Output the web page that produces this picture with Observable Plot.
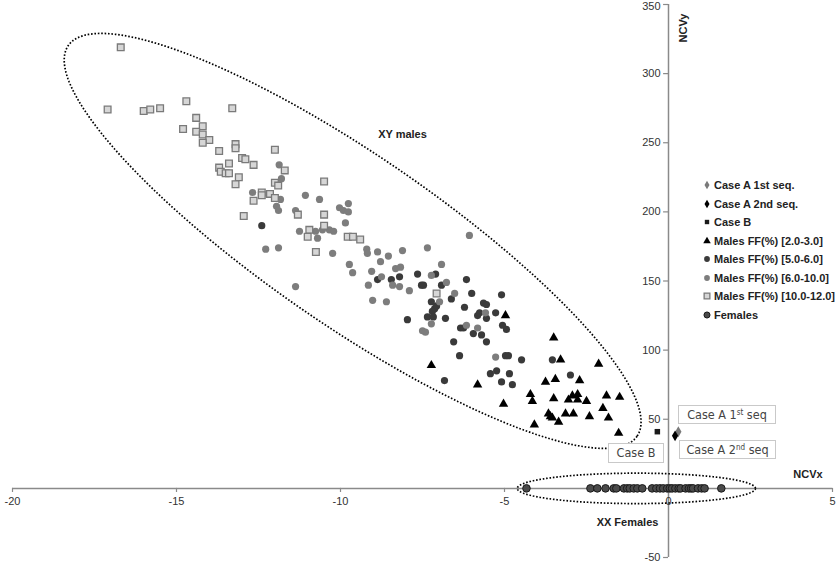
<!DOCTYPE html>
<html><head><meta charset="utf-8">
<script src="https://cdn.jsdelivr.net/npm/d3@7"></script>
<script src="https://cdn.jsdelivr.net/npm/@observablehq/plot@0.6"></script>
<style>
html,body{margin:0;padding:0;background:#fff;overflow:hidden}
#wrap{position:relative;width:837px;height:564px}
.box{position:absolute;box-sizing:border-box;border:1px solid #c9c9c9;background:#fff;font-family:"Liberation Sans Narrow","DejaVu Sans Condensed","Liberation Sans",sans-serif;font-size:12.5px;color:#444;text-align:center;white-space:nowrap}
.box sup{font-size:8px;line-height:0;vertical-align:4px}
#legend{position:absolute;left:702px;top:176px;font-family:"Liberation Sans",Arial,sans-serif;font-weight:bold;font-size:11px;color:#222}
.row{height:18.5px;display:flex;align-items:center}
.row svg{margin-right:2px}
</style></head><body><div id="wrap"></div>
<script>
// ---- data (NCVx, NCVy) ----
const caseA1 = [[0.3, 41]];
const caseA2 = [[0.2, 38]];
const caseB = [[-0.34, 41]];
const males2to3 = [[-7.23,89],[-5.82,75],[-4.97,125],[-5.03,61],[-4.21,68],[-4.15,63],[-4.09,46],[-3.75,77],[-3.5,109],[-3.29,93],[-3.45,79],[-3.5,65],[-3.66,54],[-3.6,52],[-3.54,51],[-3.35,48],[-3.14,54],[-2.9,54],[-3.05,64],[-2.93,67],[-2.77,68],[-2.77,64],[-2.71,78],[-2.5,63],[-2.41,52],[-2.13,90],[-2.0,58],[-1.89,67],[-1.83,51],[-1.49,66],[-1.52,40]];
const males5to6 = [[-12.4,190],[-8.87,151],[-8.45,151],[-8.2,153],[-7.65,155],[-7.53,147],[-7.47,147],[-7.1,155],[-6.92,147],[-7.96,122],[-7.23,135],[-7.13,130],[-7.07,132],[-7.2,128],[-7.35,124],[-7.17,124],[-6.8,123],[-6.62,137],[-6.16,151],[-6.0,141],[-6.22,131],[-5.64,134],[-5.55,133],[-5.09,140],[-5.27,127],[-5.82,125],[-5.76,127],[-5.55,123],[-6.34,116],[-6.25,116],[-5.95,112],[-5.7,111],[-5.55,106],[-5.06,118],[-4.94,115],[-6.55,106],[-6.37,96],[-4.97,96],[-4.88,96],[-4.48,93],[-5.43,83],[-5.24,85],[-4.85,83],[-5.09,77],[-4.76,75],[-6.83,78],[-3.54,93],[-2.99,82]];
const males6to10 = [[-11.87,234],[-11.8,224],[-12.68,214],[-11.83,209],[-11.95,204],[-11.89,201],[-11.37,201],[-11.07,212],[-10.64,209],[-10.03,203],[-11.25,186],[-10.76,186],[-10.7,181],[-10.55,187],[-10.34,187],[-10.21,186],[-12.28,173],[-11.89,174],[-10.24,170],[-11.37,146],[-9.91,201],[-9.76,206],[-9.76,200],[-9.85,192],[-9.2,173],[-9.18,170],[-8.87,171],[-8.54,168],[-8.11,172],[-7.35,174],[-6.07,183],[-9.73,162],[-9.63,156],[-9.05,157],[-8.78,164],[-8.32,159],[-8.17,160],[-8.75,153],[-8.41,147],[-8.2,146],[-7.9,143],[-9.15,147],[-9.02,136],[-8.6,135],[-7.23,154],[-6.92,162],[-6.77,149],[-6.52,141],[-6.98,135],[-7.23,119],[-7.5,114],[-7.41,113],[-6.16,118],[-5.82,116],[-5.58,127],[-5.27,95]];
const males10to12 = [[-16.7,319],[-17.1,274],[-16.0,273],[-15.8,274],[-15.5,275],[-14.7,280],[-14.4,268],[-14.2,262],[-14.8,260],[-14.4,258],[-14.2,256],[-14.0,252],[-14.2,250],[-13.3,275],[-13.7,244],[-13.2,249],[-13.2,246],[-13.0,239],[-12.9,238],[-12.65,234],[-13.4,235],[-13.7,232],[-13.65,229],[-13.5,228],[-13.4,228],[-13.1,225],[-13.2,220],[-12.0,245],[-11.7,230],[-12.0,221],[-11.9,219],[-12.4,214],[-12.15,213],[-12.4,212],[-12.0,210],[-12.65,208],[-12.95,197],[-11.3,198],[-10.5,222],[-10.5,198],[-10.5,190],[-10.95,187],[-11.0,182],[-10.75,171],[-9.78,182],[-9.62,182],[-9.4,180],[-7.07,141]];
const femalesX = [-4.33,-2.38,-2.17,-1.92,-1.67,-1.59,-1.36,-1.26,-1.18,-1.06,-0.95,-0.80,-0.50,-0.37,-0.26,-0.16,-0.04,0.04,0.11,0.21,0.31,0.37,0.52,0.62,0.69,0.75,0.90,1.01,1.10,1.61];
const femalesY = femalesX.map(() => 0);

const xTicks = [-20,-15,-10,-5,0,5];
const yTicks = [-50,50,100,150,200,250,300,350];
const seriesNames = ["Case A 1st seq.","Case A 2nd seq.","Case B","Males FF(%) [2.0-3.0]","Males FF(%) [5.0-6.0]","Males FF(%) [6.0-10.0]","Males FF(%) [10.0-12.0]","Females"];
const groupLabels = ["XY males","XX Females"];
const groupLabelX = [-8.11,-1.25];
const groupLabelY = [256,-25];
// ellipse annotations: centre and two conjugate semi-axis vectors, data units
const xyEllipse = {cx:-9.63, cy:179, ux:8.67, uy:-141.3, vx:-1.47, vy:-50.6};
const xxEllipse = {cx:-0.98, cy:0, ux:3.63, uy:0, vx:0, vy:11};

const pts = a => a.map(([x,y]) => ({x,y}));
const ring = e => d3.range(0, 361, 1).map(a => {const t=a*Math.PI/180; return {x:e.cx+e.ux*Math.cos(t)+e.vx*Math.sin(t), y:e.cy+e.uy*Math.cos(t)+e.vy*Math.sin(t)};});
const females = femalesX.map((x,i)=>({x, y:femalesY[i]}));

const styles = [
  {symbol:"diamond", r:3.3, fill:"#7a7a7a", stroke:"none"},
  {symbol:"diamond", r:3.3, fill:"#000", stroke:"none"},
  {symbol:"square", r:3.1, fill:"#1a1a1a", stroke:"none"},
  {symbol:"triangle", r:3.5, fill:"#000", stroke:"none"},
  {symbol:"circle", r:3.6, fill:"#3a3a3a", stroke:"none"},
  {symbol:"circle", r:3.6, fill:"#7d7d7d", stroke:"none"},
  {symbol:"square", r:3.8, fill:"#d6d6d6", stroke:"#7a7a7a", strokeWidth:1.3},
  {symbol:"circle", r:3.8, fill:"#4a4a4a", stroke:"#1a1a1a", strokeWidth:1}
];
const seriesData = [pts(caseA1), pts(caseA2), pts(caseB), pts(males2to3), pts(males5to6), pts(males6to10), pts(males10to12), females];

const dotted = {stroke:"#000", strokeWidth:1.7, strokeDasharray:"1.6 1.8", strokeLinecap:"butt", strokeLinejoin:"miter"};
const axisCol = "#8a8a8a";

const chart = Plot.plot({
  width: 837, height: 564,
  marginLeft: 12, marginRight: 5, marginTop: 4, marginBottom: 7,
  x: {domain: [-20, 5], axis: null},
  y: {domain: [-50, 350], axis: null},
  style: {fontFamily: "'Liberation Sans', Arial, sans-serif", fontSize: "11px", background: "#fff", overflow: "visible"},
  marks: [
    Plot.ruleY([0], {stroke: axisCol, strokeWidth: 1.5}),
    Plot.ruleX([0], {stroke: axisCol, strokeWidth: 1.5}),
    Plot.ruleX(xTicks, {x: d => d, y1: 0, y2: -3, stroke: axisCol, strokeWidth: 1.2}),
    Plot.ruleY(yTicks, {y: d => d, x1: -0.15, x2: 0, stroke: axisCol, strokeWidth: 1.2}),
    Plot.text(xTicks, {x: d => d, y: 0, dy: 13, text: d => String(d), fill: "#333", fontSize: 11}),
    Plot.text(yTicks.filter(d => d < 350), {x: 0, y: d => d, dx: -8, text: d => String(d), textAnchor: "end", fill: "#333", fontSize: 11}),
    Plot.text(yTicks.filter(d => d === 350), {x: 0, y: d => d, dx: -8, dy: 2, text: d => String(d), textAnchor: "end", fill: "#333", fontSize: 11}),
    Plot.line(ring(xyEllipse), {x: "x", y: "y", ...dotted}),
    Plot.line(ring(xxEllipse), {x: "x", y: "y", ...dotted}),
    ...seriesData.map((d, i) => Plot.dot(d, {x: "x", y: "y", ...styles[i]})),
    Plot.text(groupLabels, {x: (d,i) => groupLabelX[i], y: (d,i) => groupLabelY[i], text: d => d, fontWeight: "bold", fontSize: 11, fill: "#222"}),
    Plot.text(["NCVx"], {x: 4.7, y: 0, dy: -14, text: d => d, textAnchor: "end", fontWeight: "bold", fontSize: 11, fill: "#222"}),
    Plot.text(["NCVy"], {x: 0, y: 333, dx: 15, text: d => d, rotate: -90, fontWeight: "bold", fontSize: 11, fill: "#222"})
  ]
});
const wrap = document.getElementById("wrap");
wrap.appendChild(chart);

// legend
const leg = document.createElement("div");
leg.id = "legend";
const symMap = {circle: d3.symbolCircle, square: d3.symbolSquare, triangle: d3.symbolTriangle, diamond: d3.symbolDiamond};
seriesNames.forEach((name, i) => {
  const s = styles[i];
  const row = document.createElement("div");
  row.className = "row";
  const k = i === 6 ? 0.85 : 0.8;
  const path = d3.symbol(symMap[s.symbol], Math.PI * (s.r * k) ** 2)();
  row.innerHTML = `<svg width="10" height="10" viewBox="-5 -5 10 10"><path d="${path}" fill="${s.fill}" stroke="${s.stroke}" stroke-width="${s.strokeWidth || 0}"/></svg><span>${name}</span>`;
  leg.appendChild(row);
});
wrap.appendChild(leg);

// annotation boxes
const boxes = [
  {html: "Case A 1<sup>st</sup> seq", left: 678, top: 405, w: 98, h: 19},
  {html: "Case A 2<sup>nd</sup> seq", left: 679, top: 440, w: 97, h: 19},
  {html: "Case B", left: 608, top: 443, w: 56, h: 20}
];
boxes.forEach(b => {
  const el = document.createElement("div");
  el.className = "box";
  el.style.left = b.left + "px"; el.style.top = b.top + "px";
  el.style.width = b.w + "px"; el.style.height = b.h + "px";
  el.style.lineHeight = (b.h - 2) + "px";
  el.innerHTML = `<span>${b.html}</span>`;
  wrap.appendChild(el);
});
</script></body></html>
